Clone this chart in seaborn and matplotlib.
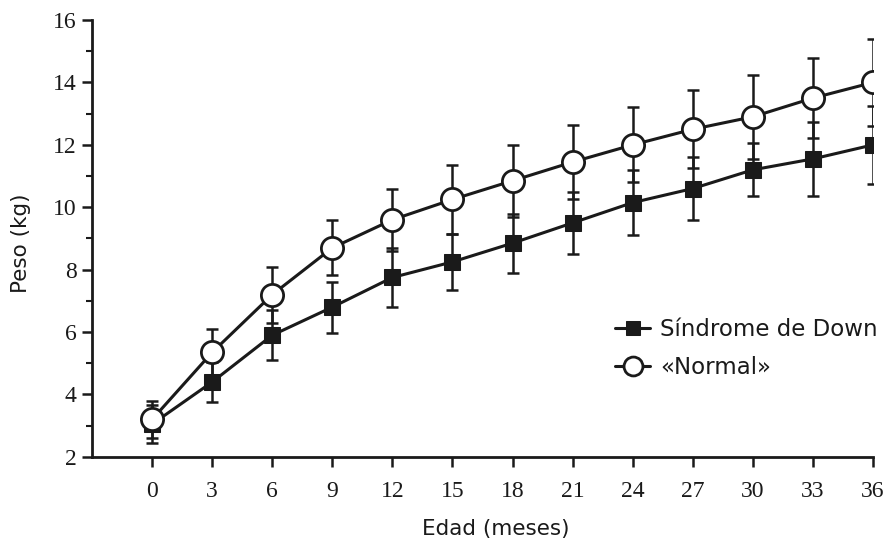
import matplotlib
matplotlib.use("Agg")
import matplotlib.pyplot as plt
import seaborn as sns
import pandas as pd
import numpy as np
from matplotlib.ticker import MultipleLocator

edad = [0, 3, 6, 9, 12, 15, 18, 21, 24, 27, 30, 33, 36]
down_mean = [3.05, 4.4, 5.9, 6.8, 7.75, 8.25, 8.85, 9.5, 10.15, 10.6, 11.2, 11.55, 12.0]
down_sd = [0.6, 0.65, 0.8, 0.82, 0.95, 0.9, 0.95, 1.0, 1.05, 1.0, 0.85, 1.18, 1.25]
normal_mean = [3.2, 5.35, 7.2, 8.7, 9.6, 10.25, 10.85, 11.45, 12.0, 12.5, 12.9, 13.5, 14.0]
normal_sd = [0.6, 0.75, 0.9, 0.88, 1.0, 1.1, 1.15, 1.18, 1.2, 1.25, 1.35, 1.28, 1.38]
labels = ["Síndrome de Down", "«Normal»"]

sns.set_theme(style="ticks")
plt.rcParams["font.family"] = ["DejaVu Sans"]

fig = plt.figure(figsize=(8.89, 5.42), dpi=100)
ax = fig.add_axes([0.1035, 0.157, 0.982 - 0.1035, 0.963 - 0.157])

df = pd.DataFrame({
    "edad": edad * 2,
    "peso": down_mean + normal_mean,
    "grupo": [labels[0]] * len(edad) + [labels[1]] * len(edad),
})

ink = "#1a1a1a"
# error bars
ax.errorbar(edad, down_mean, yerr=down_sd, fmt="none", ecolor=ink, elinewidth=1.8,
            capsize=4, capthick=1.8, zorder=2)
ax.errorbar(edad, normal_mean, yerr=normal_sd, fmt="none", ecolor=ink, elinewidth=1.8,
            capsize=4, capthick=1.8, zorder=2)

sns.lineplot(data=df[df.grupo == labels[0]], x="edad", y="peso", ax=ax, color=ink,
             lw=2.2, marker="s", markersize=12, markerfacecolor=ink, markeredgecolor=ink,
             label=labels[0], zorder=3)
sns.lineplot(data=df[df.grupo == labels[1]], x="edad", y="peso", ax=ax, color=ink,
             lw=2.2, marker="o", markersize=16, markerfacecolor="white", markeredgecolor=ink,
             markeredgewidth=2, label=labels[1], zorder=4)

ax.set_xlim(-3, 36)
ax.set_ylim(2, 16)
ax.set_xticks(edad)
ax.set_yticks(range(2, 17, 2))
ax.yaxis.set_minor_locator(MultipleLocator(1))
ax.tick_params(axis="both", which="major", length=7, width=1.8, color=ink, labelcolor=ink)
ax.tick_params(axis="y", which="minor", length=4, width=1.5, color=ink)
for lab in ax.get_xticklabels() + ax.get_yticklabels():
    lab.set_fontfamily(["Liberation Serif", "DejaVu Serif"])
    lab.set_fontsize(17)
ax.tick_params(axis="x", pad=10)
ax.tick_params(axis="y", pad=4)

sns.despine(ax=ax)
for s in ["left", "bottom"]:
    ax.spines[s].set_linewidth(2)
    ax.spines[s].set_color(ink)

ax.set_xlabel("Edad (meses)", fontsize=15.5, color=ink)
ax.set_ylabel("Peso (kg)", fontsize=15.5, color=ink)
ax.xaxis.set_label_coords(0.517, -0.142)
ax.yaxis.set_label_coords(-0.078, 0.49)

leg = ax.legend(loc="center left", bbox_to_anchor=(0.682, 0.357), bbox_transform=fig.transFigure,
                frameon=False, fontsize=16.5, handlelength=1.5, handletextpad=0.45,
                labelspacing=0.62, borderaxespad=0, markerscale=0.85)
for t in leg.get_texts():
    t.set_color(ink)

fig.savefig("out.png", dpi=100, facecolor="white")
